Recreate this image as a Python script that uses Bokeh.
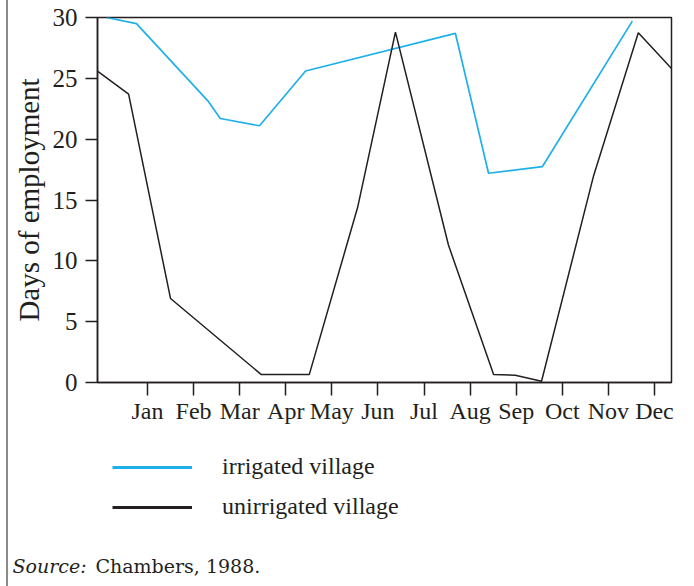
import math
from bokeh.plotting import figure
from bokeh.layouts import column, row
from bokeh.models import (Range1d, FixedTicker, Legend, LegendItem, Label,
                          Div, Spacer)
from bokeh.embed import file_html
from bokeh.resources import INLINE

# ---- data ----
months = ["Jan", "Feb", "Mar", "Apr", "May", "Jun", "Jul", "Aug", "Sep", "Oct", "Nov", "Dec"]
month_pos = [1, 2, 3, 4, 5, 6, 7, 8, 9, 10, 11, 12]
y_ticks = [0, 5, 10, 15, 20, 25, 30]

irr_x = [0.11, 0.76, 2.32, 2.58, 3.43, 4.43, 7.68, 8.40, 9.57, 11.52]
irr_y = [30.0, 29.5, 23.1, 21.7, 21.1, 25.6, 28.7, 17.2, 17.75, 29.7]

unirr_x = [-0.085, 0.59, 1.50, 3.47, 4.51, 5.56, 6.38, 7.53, 8.51, 8.98, 9.55, 10.68, 11.65, 12.37]
unirr_y = [25.6, 23.7, 6.9, 0.65, 0.65, 14.4, 28.8, 11.3, 0.65, 0.6, 0.1, 17.0, 28.75, 25.8]

series_labels = ["irrigated village", "unirrigated village"]
source_label = "Source:"
source_text = "Chambers, 1988."

BLUE = "#1fb0ea"
INK = "#231f20"
SERIF = "Liberation Serif"

W = 686  # width right of the page rule

# ---------------- main chart ----------------
p = figure(width=W, height=430, output_backend="svg", toolbar_location=None,
           x_range=Range1d(-0.085, 12.37), y_range=Range1d(0, 30),
           min_border_left=89, min_border_right=23, min_border_top=17, min_border_bottom=48)
p.frame_align = False

p.xgrid.visible = False
p.ygrid.visible = False
p.outline_line_color = INK
p.outline_line_width = 1.5
p.background_fill_color = "white"
p.border_fill_color = "white"

p.line(irr_x, irr_y, line_color=BLUE, line_width=1.7)
p.line(unirr_x, unirr_y, line_color=INK, line_width=1.5)

xa = p.xaxis[0]
xa.ticker = FixedTicker(ticks=month_pos)
xa.major_label_overrides = {m: lab for m, lab in zip(month_pos, months)}
xa.minor_tick_line_color = None
xa.major_tick_in = 0
xa.major_tick_out = 13
xa.major_tick_line_color = INK
xa.major_tick_line_width = 1.5
xa.axis_line_color = INK
xa.axis_line_width = 1.5
xa.major_label_text_font = SERIF
xa.major_label_text_font_size = "24px"
xa.major_label_text_color = INK
xa.major_label_standoff = 2

ya = p.yaxis[0]
ya.ticker = FixedTicker(ticks=y_ticks)
ya.minor_tick_line_color = None
ya.major_tick_in = 0
ya.major_tick_out = 12
ya.major_tick_line_color = INK
ya.major_tick_line_width = 1.5
ya.axis_line_color = INK
ya.axis_line_width = 1.5
ya.major_label_text_font = SERIF
ya.major_label_text_font_size = "25px"
ya.major_label_text_color = INK
ya.major_label_standoff = 8
ya.axis_label = "Days of employment"
ya.axis_label_text_font = SERIF
ya.axis_label_text_font_size = "29px"
ya.axis_label_text_font_style = "normal"
ya.axis_label_text_color = INK
ya.axis_label_standoff = 5

# ---------------- legend + source panel ----------------
H2 = 156
q = figure(width=W, height=H2, output_backend="svg", toolbar_location=None,
           x_range=Range1d(0, W), y_range=Range1d(0, H2),
           x_axis_location=None, y_axis_location=None, min_border=0)
q.frame_align = False
q.xgrid.visible = False
q.ygrid.visible = False
q.outline_line_color = None
q.background_fill_color = "white"
q.border_fill_color = "white"

l1 = q.line([math.nan], [math.nan], line_color=BLUE, line_width=3)
l2 = q.line([math.nan], [math.nan], line_color=INK, line_width=3)

legend = Legend(items=[LegendItem(label=series_labels[0], renderers=[l1]),
                       LegendItem(label=series_labels[1], renderers=[l2])],
                location=(104, 66), orientation="vertical",
                glyph_width=80, glyph_height=24, label_height=24, label_standoff=30,
                spacing=13, padding=0, margin=0,
                border_line_color=None, background_fill_alpha=0,
                label_text_font=SERIF, label_text_font_size="24px", label_text_color=INK)
q.add_layout(legend)

q.add_layout(Label(x=4, y=21, x_units="screen", y_units="screen", text=source_label,
                   text_font="DejaVu Serif", text_font_style="italic", text_font_size="19px",
                   text_color=INK, text_baseline="alphabetic"))
q.add_layout(Label(x=87, y=21, x_units="screen", y_units="screen", text=source_text,
                   text_font="DejaVu Serif", text_font_size="19px",
                   text_color=INK, text_baseline="alphabetic"))

rule = Div(text="", width=2, height=586, margin=0,
           styles={"background-color": "#8a8a8a"})
layout = row(Spacer(width=6, height=586, margin=0), rule,
             column(p, q, spacing=0), spacing=0)

open("out.html", "w").write(file_html(layout, INLINE))
